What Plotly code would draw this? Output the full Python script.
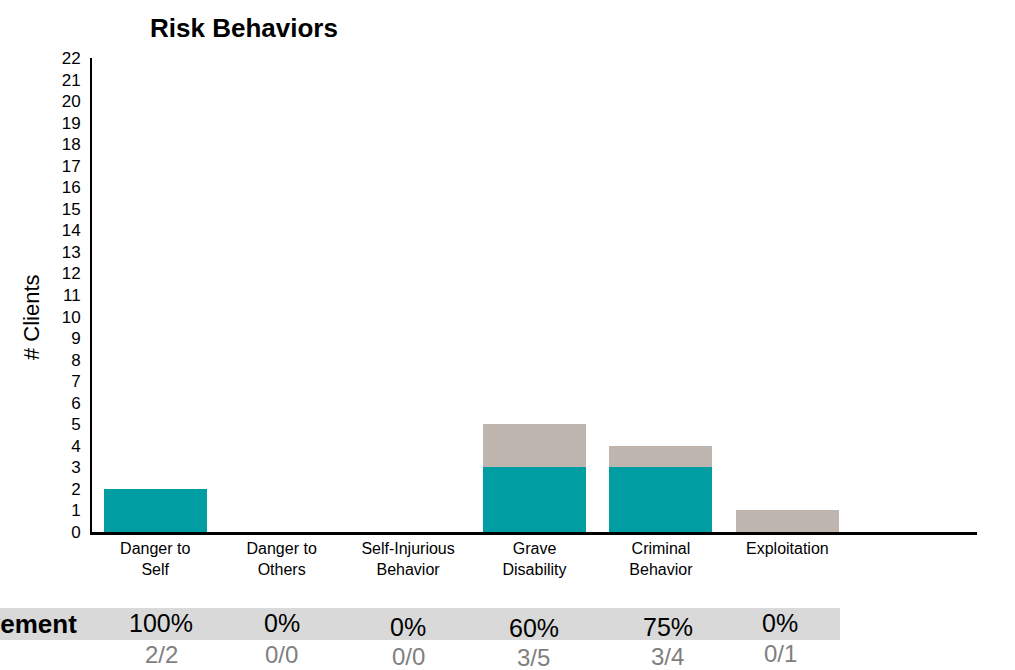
import plotly.graph_objects as go

categories = ["Danger to Self", "Danger to Others", "Self-Injurious Behavior",
              "Grave Disability", "Criminal Behavior", "Exploitation"]
tick_labels = ["Danger to<br>Self", "Danger to<br>Others", "Self-Injurious<br>Behavior",
               "Grave<br>Disability", "Criminal<br>Behavior", "Exploitation"]
achieved = [2, 0, 0, 3, 3, 0]
not_achieved = [0, 0, 0, 2, 1, 1]
totals = [a + n for a, n in zip(achieved, not_achieved)]
pct_text = [f"{round(100 * a / t) if t else 0}%" for a, t in zip(achieved, totals)]
frac_text = [f"{a}/{t}" for a, t in zip(achieved, totals)]
y_ticks = list(range(0, 23))

TEAL = "#009EA3"
GRAY = "#BEB5AF"
FONT = "Liberation Sans, Arial, sans-serif"

# layout geometry (pixels)
W, H = 1015, 670
L, R, T, B = 92, 38, 58, 138
PW, PH = W - L - R, H - T - B


def py(pix):  # pixel y -> paper y
    return (H - B - pix) / PH


def px(pix):  # pixel x -> paper x
    return (pix - L) / PW


fig = go.Figure()
fig.add_trace(go.Bar(x=categories, y=achieved, marker=dict(color=TEAL, line=dict(width=0)),
                     name="Achieved", showlegend=False))
fig.add_trace(go.Bar(x=categories, y=not_achieved, marker=dict(color=GRAY, line=dict(width=0)),
                     name="Not achieved", showlegend=False))

fig.update_layout(
    width=W, height=H,
    margin=dict(l=L, r=R, t=T, b=B),
    barmode="stack", bargap=0.185,
    plot_bgcolor="white", paper_bgcolor="white",
    font=dict(family=FONT, color="black"),
    title=dict(text="<b>Risk Behaviors</b>", font=dict(size=26, family=FONT, color="black"),
               x=px(244), xref="paper", xanchor="center",
               y=1 - 28 / H, yref="container", yanchor="middle"),
    xaxis=dict(type="category", range=[-0.5, 6.5], tickvals=categories, ticktext=tick_labels,
               showline=True, linecolor="black", linewidth=2.5, showgrid=False,
               ticks="", tickfont=dict(size=16, family=FONT), zeroline=False),
    yaxis=dict(range=[0, 22], tickvals=y_ticks, showline=True, linecolor="black", linewidth=2,
               showgrid=False, zeroline=False, ticks="", tickfont=dict(size=17, family=FONT),
               ticklabelstandoff=6),
)

# y-axis title
fig.add_annotation(text="# Clients", xref="paper", yref="paper", x=px(31), y=py(317),
                   textangle=-90, showarrow=False, font=dict(size=22, family=FONT),
                   xanchor="center", yanchor="middle")

# table band
fig.add_shape(type="rect", xref="paper", yref="paper", x0=px(-5), x1=px(840),
              y0=py(608), y1=py(640), fillcolor="#D9D9D9", line=dict(width=0), layer="below")

fig.add_annotation(text="<b>Achievement</b>", xref="paper", yref="paper", x=px(79), y=py(624),
                   xanchor="right", yanchor="middle", showarrow=False,
                   font=dict(size=26, family=FONT, color="black"))

pct_dx = [6, 0, 0, -1, 7, -7]
pct_y = [623, 623, 627, 628, 627, 623]
frac_y = [654, 654, 656, 657, 656, 653]
for i, c in enumerate(categories):
    fig.add_annotation(text=pct_text[i], x=c, xref="x", yref="paper", y=py(pct_y[i]),
                       xshift=pct_dx[i], showarrow=False, xanchor="center", yanchor="middle",
                       font=dict(size=25, family=FONT, color="black"))
    fig.add_annotation(text=frac_text[i], x=c, xref="x", yref="paper", y=py(frac_y[i]),
                       xshift=pct_dx[i], showarrow=False, xanchor="center", yanchor="middle",
                       font=dict(size=24, family=FONT, color="#7F7F7F"))

fig.write_html("out.html", config={"displayModeBar": False},
               post_script="document.body.style.margin='0';")
